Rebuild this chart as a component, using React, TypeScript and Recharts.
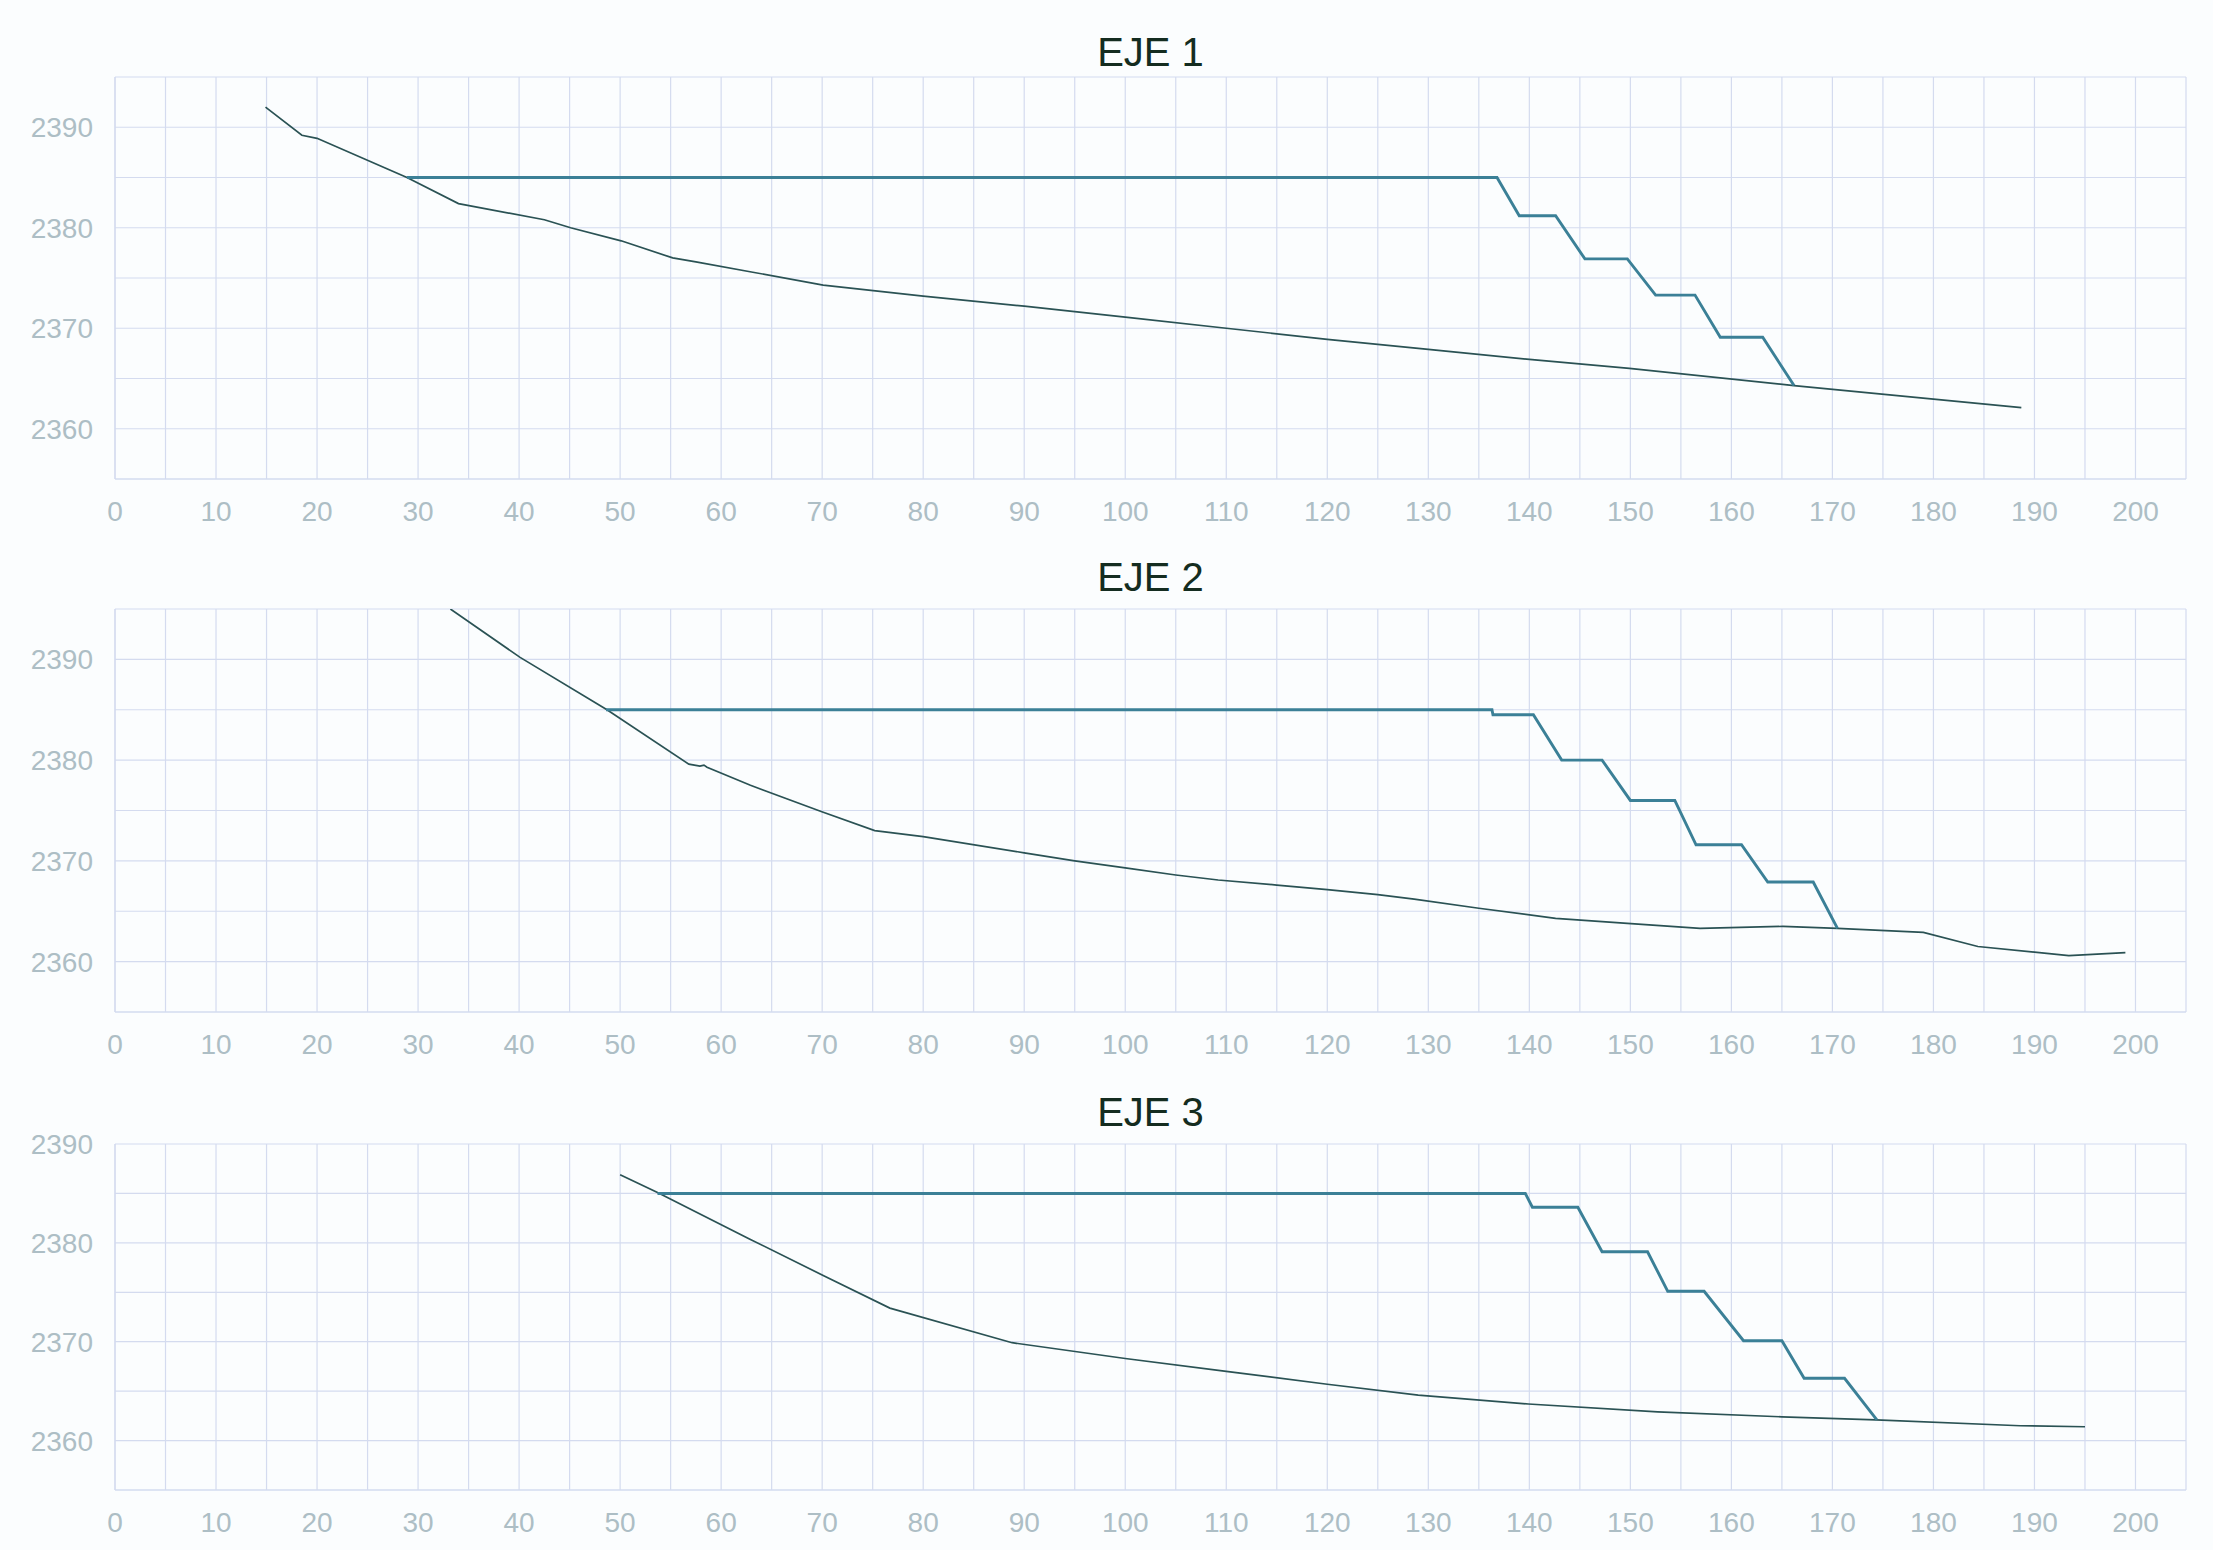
import { LineChart, Line, XAxis, YAxis, CartesianGrid } from "recharts"

// perfiles longitudinales: terreno natural y rasante de diseño, [distancia, cota]
const eje1Terreno: [number, number][] = [
    [14.9, 2392.0], [18.5, 2389.2], [20.0, 2388.9], [28.9, 2385.0], [34.0, 2382.4],
    [42.5, 2380.8], [45.1, 2380.0], [50.1, 2378.7], [55.2, 2377.0], [57.5, 2376.6],
    [63.0, 2375.6], [70.1, 2374.3], [80, 2373.2], [90, 2372.2], [100, 2371.1],
    [110, 2370.0], [120, 2368.9], [130, 2367.9], [140, 2366.9], [149.9, 2366.0],
    [166.2, 2364.3], [188.7, 2362.1],
]
const eje1Rasante: [number, number][] = [
    [28.9, 2385], [136.8, 2385], [139.0, 2381.2], [142.6, 2381.2], [145.5, 2376.9],
    [149.7, 2376.9], [152.5, 2373.3], [156.4, 2373.3], [158.9, 2369.1], [163.1, 2369.1],
    [166.2, 2364.3],
]

const eje2Terreno: [number, number][] = [
    [33.2, 2395.0], [40.1, 2390.2], [48.7, 2385.0], [56.8, 2379.6], [57.9, 2379.4],
    [58.3, 2379.5], [58.6, 2379.3], [62.9, 2377.5], [69.9, 2374.9], [75.2, 2373.0],
    [80, 2372.4], [90, 2370.8], [95, 2370.0], [100, 2369.3], [105, 2368.6],
    [109.2, 2368.1], [115, 2367.6], [120, 2367.15], [125, 2366.65], [128.6, 2366.2],
    [135, 2365.3], [142.6, 2364.3], [149.7, 2363.8], [156.9, 2363.3], [165.1, 2363.5],
    [170.5, 2363.3], [179, 2362.9], [184.4, 2361.5], [193.4, 2360.6], [199, 2360.9],
]
const eje2Rasante: [number, number][] = [
    [48.6, 2385], [136.3, 2385], [136.4, 2384.5], [140.4, 2384.5], [143.2, 2380.0],
    [147.2, 2380.0], [150.0, 2376.0], [154.4, 2376.0], [156.5, 2371.6], [161.0, 2371.6],
    [163.6, 2367.9], [168.1, 2367.9], [170.5, 2363.3],
]

const eje3Terreno: [number, number][] = [
    [50.0, 2386.9], [53.7, 2385.1], [62.8, 2380.4], [70.1, 2376.7], [76.7, 2373.4],
    [88.8, 2369.9], [100, 2368.3], [110, 2367.0], [120, 2365.7], [129, 2364.6],
    [139.9, 2363.7], [152.7, 2362.9], [165, 2362.4], [174.3, 2362.1], [188.6, 2361.5],
    [195, 2361.4],
]
const eje3Rasante: [number, number][] = [
    [53.7, 2385], [139.6, 2385], [140.3, 2383.6], [144.8, 2383.6], [147.2, 2379.1],
    [151.7, 2379.1], [153.7, 2375.1], [157.3, 2375.1], [161.2, 2370.1], [165.0, 2370.1],
    [167.2, 2366.3], [171.2, 2366.3], [174.4, 2362.1],
]

const xTicks = [
    0, 5, 10, 15, 20, 25, 30, 35, 40, 45, 50, 55, 60, 65, 70, 75, 80, 85, 90, 95, 100,
    105, 110, 115, 120, 125, 130, 135, 140, 145, 150, 155, 160, 165, 170, 175, 180,
    185, 190, 195, 200, 205,
]
const yTicks = [2355, 2360, 2365, 2370, 2375, 2380, 2385, 2390, 2395]
const yTicksEje3 = [2355, 2360, 2365, 2370, 2375, 2380, 2385, 2390]

const FONT = "'Liberation Sans', Arial, sans-serif"
const GRID = "#d4dbef"
const TICK = { fill: "#adbec5", fontSize: 28, fontFamily: FONT }

const toPoints = (arr: [number, number][]) => arr.map(([x, y]) => ({ x, y }))
const cadaDiez = (v: number) => (v % 10 === 0 ? String(v) : "")

interface PerfilProps {
    titulo: string
    terreno: [number, number][]
    rasante: [number, number][]
    top: number
    height: number
    marginTop: number
    yDomain: [number, number]
    ticksY: number[]
    tituloY: number
}

function Perfil({ titulo, terreno, rasante, top, height, marginTop, yDomain, ticksY, tituloY }: PerfilProps) {
    return (
        <>
            <div
                style={{
                    position: "absolute",
                    left: 115,
                    width: 2071,
                    top: tituloY - 20,
                    textAlign: "center",
                    fontFamily: FONT,
                    fontSize: 40,
                    lineHeight: "40px",
                    color: "#142c20",
                }}
            >
                {titulo}
            </div>
            <div style={{ position: "absolute", left: 0, top }}>
                <LineChart
                    width={2213}
                    height={height}
                    margin={{ top: marginTop, right: 27, bottom: 0, left: 0 }}
                >
                    <CartesianGrid stroke={GRID} strokeWidth={1.2} />
                    <XAxis
                        dataKey="x"
                        type="number"
                        domain={[0, 205]}
                        ticks={xTicks}
                        interval={0}
                        tickFormatter={cadaDiez}
                        tick={TICK}
                        tickLine={false}
                        axisLine={{ stroke: GRID, strokeWidth: 1.2 }}
                        tickMargin={16}
                        height={60}
                        allowDataOverflow
                    />
                    <YAxis
                        type="number"
                        domain={yDomain}
                        ticks={ticksY}
                        interval={0}
                        tickFormatter={cadaDiez}
                        tick={TICK}
                        tickLine={false}
                        axisLine={{ stroke: GRID, strokeWidth: 1.2 }}
                        tickMargin={16}
                        width={115}
                        allowDataOverflow
                    />
                    <Line
                        data={toPoints(terreno)}
                        dataKey="y"
                        type="linear"
                        stroke="#2a5254"
                        strokeWidth={1.7}
                        dot={false}
                        isAnimationActive={false}
                    />
                    <Line
                        data={toPoints(rasante)}
                        dataKey="y"
                        type="linear"
                        stroke="#3b8097"
                        strokeWidth={2.9}
                        dot={false}
                        isAnimationActive={false}
                    />
                </LineChart>
            </div>
        </>
    )
}

export default function App() {
    return (
        <div
            style={{
                position: "absolute",
                left: 0,
                top: 0,
                width: 2213,
                height: 1550,
                background: "#fbfdfe",
                overflow: "hidden",
            }}
        >
            <Perfil
                titulo="EJE 1"
                terreno={eje1Terreno}
                rasante={eje1Rasante}
                top={0}
                height={539}
                marginTop={77}
                yDomain={[2355, 2395]}
                ticksY={yTicks}
                tituloY={52}
            />
            <Perfil
                titulo="EJE 2"
                terreno={eje2Terreno}
                rasante={eje2Rasante}
                top={540}
                height={532}
                marginTop={69}
                yDomain={[2355, 2395]}
                ticksY={yTicks}
                tituloY={577}
            />
            <Perfil
                titulo="EJE 3"
                terreno={eje3Terreno}
                rasante={eje3Rasante}
                top={1080}
                height={470}
                marginTop={64}
                yDomain={[2355, 2390]}
                ticksY={yTicksEje3}
                tituloY={1112}
            />
        </div>
    )
}
